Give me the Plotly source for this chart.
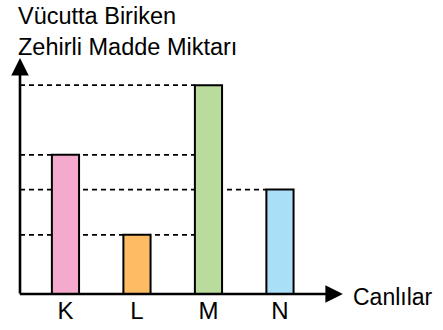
import plotly.graph_objects as go

# Organisms and the amount of toxic substance accumulated in each
canlilar = ["K", "L", "M", "N"]
madde_miktari = [4.0, 1.7, 6.0, 3.0]
bar_colors = ["#F4AACC", "#FDBB64", "#B9DB9B", "#AADFF8"]

BAR_W = 0.38
FONT = dict(family="Liberation Sans, Arial, sans-serif", size=23.5, color="black")

fig = go.Figure()
fig.add_trace(go.Bar(
    x=list(range(len(canlilar))),
    y=madde_miktari,
    width=BAR_W,
    marker=dict(color=bar_colors, line=dict(color="black", width=2)),
    hoverinfo="skip",
))

# Dashed guide lines from the value axis to the bars
idx = {c: i for i, c in enumerate(canlilar)}
guides = [("M", "M"), ("K", "M"), ("N", "N"), ("L", "M")]
for src, stop in guides:
    val = madde_miktari[idx[src]]
    fig.add_shape(type="line", xref="x", yref="y",
                  x0=-0.636, x1=idx[stop] - BAR_W / 2, y0=val, y1=val,
                  line=dict(color="black", width=1.7, dash="5px,4px"),
                  layer="below")

# Axes drawn as arrows
fig.add_annotation(xref="x", yref="y", axref="x", ayref="y",
                   x=-0.636, y=6.78, ax=-0.636, ay=-0.03,
                   showarrow=True, arrowhead=2, arrowsize=1.35, arrowwidth=2.6,
                   arrowcolor="black", text="", standoff=0, startstandoff=0)
fig.add_annotation(xref="x", yref="y", axref="x", ayref="y",
                   x=3.88, y=0, ax=-0.66, ay=0,
                   showarrow=True, arrowhead=2, arrowsize=1.35, arrowwidth=2.6,
                   arrowcolor="black", text="", standoff=0, startstandoff=0)

fig.add_annotation(xref="paper", yref="paper", x=0, y=1, xshift=-4, yshift=-1,
                   xanchor="left", yanchor="top", align="left", showarrow=False,
                   text="Vücutta Biriken<br>Zehirli Madde Miktarı", font=FONT)
fig.add_annotation(xref="x", yref="y", x=3.88, y=0, xshift=8, yshift=-3,
                   xanchor="left", yanchor="middle", showarrow=False,
                   text="Canlılar", font=dict(FONT, size=23))

fig.update_layout(
    width=443, height=330,
    margin=dict(l=20, r=0, t=0, b=36),
    paper_bgcolor="white", plot_bgcolor="white",
    showlegend=False,
    font=FONT,
    xaxis=dict(range=[-0.636, 5.28], tickmode="array",
               tickvals=list(range(len(canlilar))), ticktext=canlilar,
               showgrid=False, zeroline=False, showline=False, ticks="",
               tickfont=dict(FONT, size=24), fixedrange=True),
    yaxis=dict(range=[0, 8.448], showgrid=False, zeroline=False,
               showline=False, showticklabels=False, ticks="", fixedrange=True),
)

fig.write_html("out.html")
